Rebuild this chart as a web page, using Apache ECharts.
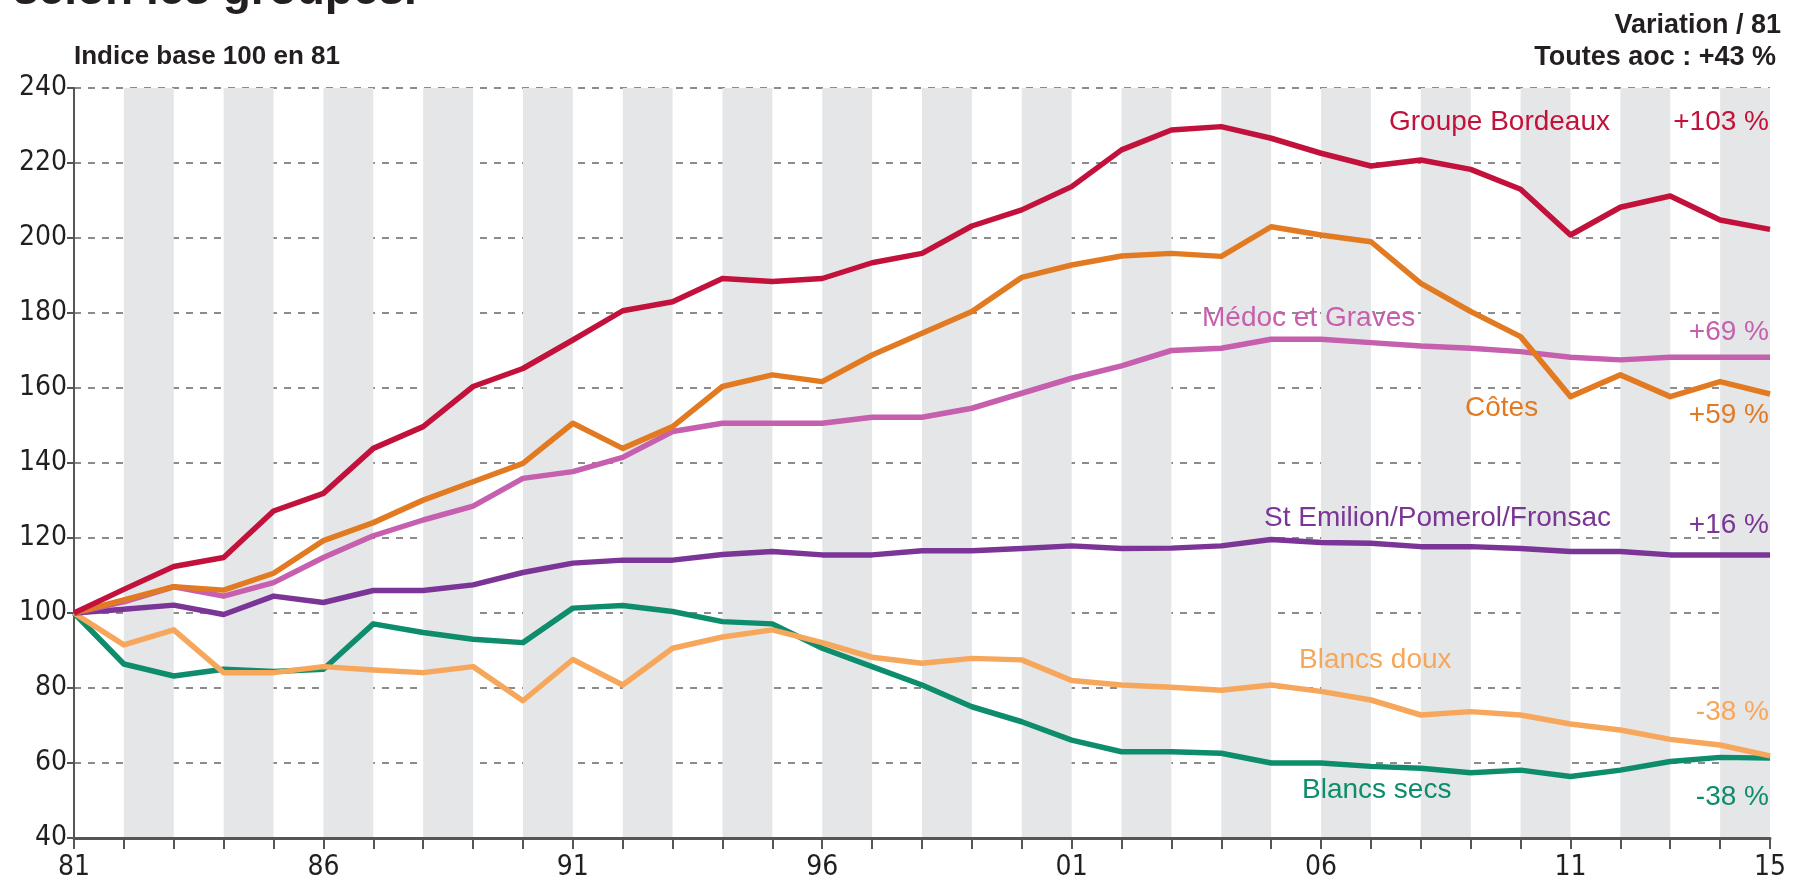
<!DOCTYPE html>
<html>
<head>
<meta charset="utf-8">
<script src="https://cdn.jsdelivr.net/npm/echarts@6/dist/echarts.min.js"></script>
<style>
  html, body { margin: 0; padding: 0; background: #fff; }
  #main { width: 1795px; height: 884px; }
</style>
</head>
<body>
<div id="main"></div>
<script>
// années 1981 .. 2015, indice base 100 en 81
const years = [1981, 1982, 1983, 1984, 1985, 1986, 1987, 1988, 1989, 1990, 1991, 1992, 1993, 1994, 1995, 1996, 1997, 1998, 1999, 2000, 2001, 2002, 2003, 2004, 2005, 2006, 2007, 2008, 2009, 2010, 2011, 2012, 2013, 2014, 2015]
const shownYears = [1981, 1986, 1991, 1996, 2001, 2006, 2011, 2015]
const yTicks = [40, 60, 80, 100, 120, 140, 160, 180, 200, 220, 240]

const bordeaux = [100, 106.3, 112.4, 114.8, 127.2, 131.9, 143.9, 149.7, 160.4, 165.2, 172.8, 180.6, 183, 189.2, 188.4, 189.2, 193.4, 195.9, 203.2, 207.5, 213.7, 223.5, 228.8, 229.7, 226.6, 222.6, 219.2, 220.8, 218.3, 213, 200.8, 208.2, 211.2, 204.8, 202.3]
const cotes = [100, 103.5, 107, 106.1, 110.6, 119.3, 124.1, 130.1, 135, 139.9, 150.6, 143.9, 149.7, 160.4, 163.5, 161.7, 168.8, 174.6, 180.4, 189.5, 192.8, 195.2, 195.9, 195.1, 203, 200.8, 199, 187.9, 180.4, 173.7, 157.7, 163.5, 157.7, 161.7, 158.4]
const medoc = [100, 103, 107, 104.5, 108.1, 114.8, 120.6, 124.8, 128.5, 135.9, 137.7, 141.5, 148.4, 150.6, 150.6, 150.6, 152.2, 152.2, 154.6, 158.6, 162.6, 165.9, 170, 170.6, 173, 173, 172.1, 171.2, 170.6, 169.7, 168.2, 167.5, 168.2, 168.2, 168.2]
const stEmilion = [100, 101, 102.1, 99.6, 104.5, 102.8, 106, 106, 107.5, 110.8, 113.3, 114.1, 114.1, 115.6, 116.4, 115.5, 115.5, 116.6, 116.6, 117.2, 117.9, 117.2, 117.3, 117.9, 119.6, 118.8, 118.6, 117.7, 117.7, 117.2, 116.4, 116.4, 115.5, 115.5, 115.5]
const blancsDoux = [100, 91.5, 95.5, 84.1, 84.1, 85.7, 84.8, 84.1, 85.7, 76.6, 87.6, 80.8, 90.6, 93.6, 95.5, 92.1, 88.2, 86.6, 87.9, 87.5, 82, 80.8, 80.2, 79.4, 80.8, 79.1, 76.8, 72.8, 73.7, 72.8, 70.4, 68.8, 66.3, 64.8, 61.9]
const blancsSecs = [100, 86.4, 83.2, 85, 84.4, 85, 97.1, 94.8, 93, 92.1, 101.3, 102, 100.4, 97.7, 97.1, 90.6, 85.7, 80.8, 75, 71, 66.1, 63, 63, 62.6, 60, 60, 59.1, 58.6, 57.4, 58.1, 56.4, 58.1, 60.4, 61.5, 61.3]

const groupNames = ['Groupe Bordeaux', 'Médoc et Graves', 'Côtes', 'St Emilion/Pomerol/Fronsac', 'Blancs doux', 'Blancs secs']
const variations = ['+103 %', '+69 %', '+59 %', '+16 %', '-38 %', '-38 %']
const titleText = 'selon les groupes.'
const subtitle = 'Indice base 100 en 81'
const rightTitle = ['Variation / 81', 'Toutes aoc : +43 %']

const colors = {
  bordeaux: '#c2123b',
  medoc: '#c55fae',
  cotes: '#e27a22',
  stEmilion: '#7a3596',
  blancsDoux: '#f7a75b',
  blancsSecs: '#0d8d6b'
}
const ink = '#231f20'
const narrow = '"Liberation Sans Narrow", "DejaVu Sans Condensed", "Roboto", sans-serif'
const sans = '"Liberation Sans", "Open Sans", sans-serif'

function pairs (vals) {
  return vals.map((v, i) => [years[i], v])
}

function mkLine (name, vals, color, z) {
  return {
    name: name,
    type: 'line',
    data: pairs(vals),
    symbol: 'none',
    z: z,
    lineStyle: { color: color, width: 5.5, join: 'round' },
    emphasis: { disabled: true }
  }
}

// textes (positions en pixels du canevas)
function txt (text, x, y, color, font, align) {
  return {
    type: 'text',
    x: x,
    y: y,
    z: 100,
    style: { text: text, fill: color, font: font, align: align || 'left', verticalAlign: 'middle' }
  }
}
const lblFont = '28px ' + sans
const graphics = [
  { type: 'text', x: 13, y: 14, z: 100, style: { text: titleText, fill: ink, font: 'bold 46px ' + sans, align: 'left', verticalAlign: 'bottom' } },
  txt(subtitle, 74, 57, ink, 'bold 26px ' + sans),
  txt(rightTitle[0], 1781, 26, ink, 'bold 27px ' + sans, 'right'),
  txt(rightTitle[1], 1776, 58, ink, 'bold 27px ' + sans, 'right'),
  txt(groupNames[0], 1610, 122, colors.bordeaux, lblFont, 'right'),
  txt(variations[0], 1769, 122, colors.bordeaux, lblFont, 'right'),
  txt(groupNames[1], 1202, 318, colors.medoc, lblFont),
  txt(variations[1], 1769, 332, colors.medoc, lblFont, 'right'),
  txt(groupNames[2], 1465, 408, colors.cotes, lblFont),
  txt(variations[2], 1769, 415, colors.cotes, lblFont, 'right'),
  txt(groupNames[3], 1611, 518, colors.stEmilion, lblFont, 'right'),
  txt(variations[3], 1769, 525, colors.stEmilion, lblFont, 'right'),
  txt(groupNames[4], 1299, 660, colors.blancsDoux, lblFont),
  txt(variations[4], 1769, 712, colors.blancsDoux, lblFont, 'right'),
  txt(groupNames[5], 1302, 790, colors.blancsSecs, lblFont),
  txt(variations[5], 1769, 797, colors.blancsSecs, lblFont, 'right')
]

const myChart = echarts.init(document.getElementById('main'), null, { renderer: 'canvas' })
myChart.setOption({
  animation: false,
  backgroundColor: '#fff',
  grid: { left: 74, right: 25, top: 88, bottom: 46, containLabel: false },
  xAxis: {
    type: 'value',
    min: years[0],
    max: years[years.length - 1],
    interval: 1,
    axisLine: { show: true, onZero: false, lineStyle: { color: '#555', width: 3 } },
    axisTick: { show: true, length: 11, lineStyle: { color: '#555', width: 2 } },
    axisLabel: {
      margin: 16,
      color: ink,
      fontFamily: narrow,
      fontSize: 28,
      showMinLabel: true,
      showMaxLabel: true,
      hideOverlap: false,
      formatter: function (v) {
        return shownYears.indexOf(v) >= 0 ? String(v).slice(2) : ''
      }
    },
    splitLine: { show: false },
    splitArea: { show: true, areaStyle: { color: ['rgba(255,255,255,0)', '#e5e6e8'] } }
  },
  yAxis: {
    type: 'value',
    min: yTicks[0],
    max: yTicks[yTicks.length - 1],
    interval: 20,
    axisLine: { show: true, lineStyle: { color: '#555', width: 2 } },
    axisTick: { show: true, length: 7, lineStyle: { color: '#555', width: 2 } },
    axisLabel: { margin: 7, color: ink, fontFamily: narrow, fontSize: 28 },
    splitLine: { show: true, lineStyle: { color: '#8c8c8c', width: 2, type: [7, 7] } }
  },
  graphic: graphics,
  series: [
    mkLine(groupNames[5], blancsSecs, colors.blancsSecs, 3),
    mkLine(groupNames[4], blancsDoux, colors.blancsDoux, 4),
    mkLine(groupNames[3], stEmilion, colors.stEmilion, 5),
    mkLine(groupNames[1], medoc, colors.medoc, 6),
    mkLine(groupNames[2], cotes, colors.cotes, 7),
    mkLine(groupNames[0], bordeaux, colors.bordeaux, 8)
  ]
})
</script>
</body>
</html>
